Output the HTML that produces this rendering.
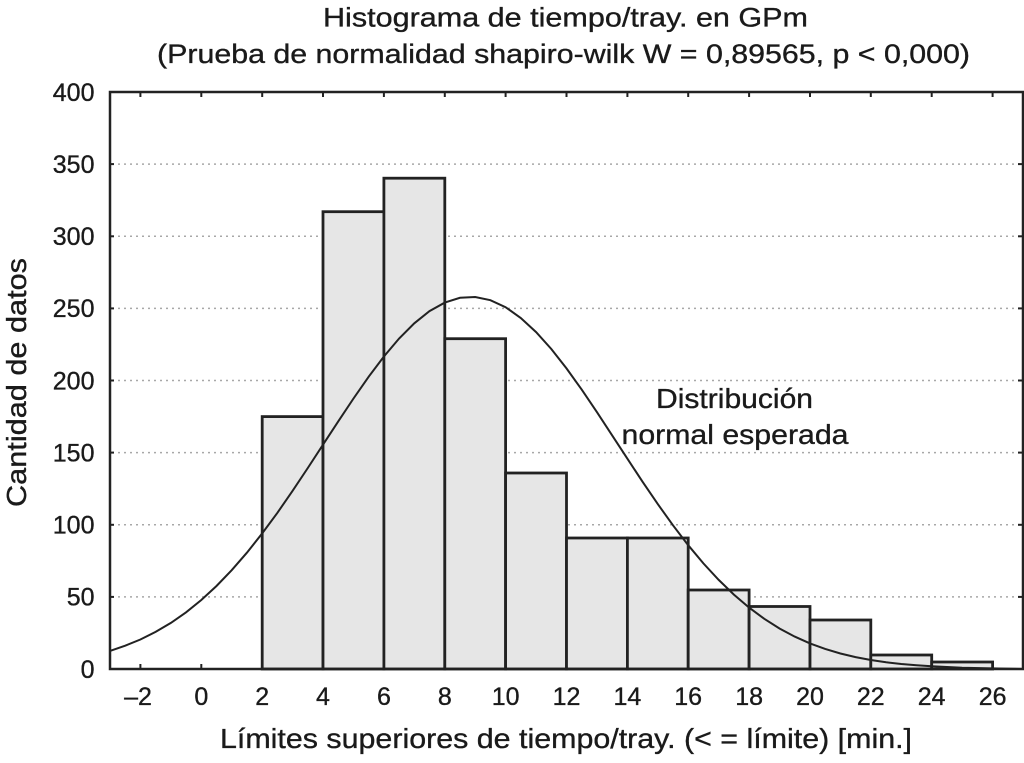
<!DOCTYPE html>
<html>
<head>
<meta charset="utf-8">
<style>
html,body{margin:0;padding:0;background:#fff;}
svg{display:block;}
text{font-family:"Liberation Sans",Arial,sans-serif;fill:#1a1a1a;stroke:#1a1a1a;stroke-width:0.35;}
</style>
</head>
<body>
<svg width="1024" height="763" viewBox="0 0 1024 763" xmlns="http://www.w3.org/2000/svg">
<rect x="0" y="0" width="1024" height="763" fill="#fff"/>

<!-- Titles -->
<text x="565.5" y="26.5" font-size="27" text-anchor="middle" textLength="485" lengthAdjust="spacingAndGlyphs">Histograma de tiempo/tray. en GPm</text>
<text x="563.5" y="63" font-size="27" text-anchor="middle" textLength="813" lengthAdjust="spacingAndGlyphs">(Prueba de normalidad shapiro-wilk W = 0,89565, p &lt; 0,000)</text>

<!-- Gridlines -->
<g stroke="#a8a8a8" stroke-width="1.5" stroke-dasharray="2 4">
<line x1="112" y1="164.1" x2="1021" y2="164.1"/>
<line x1="112" y1="236.3" x2="1021" y2="236.3"/>
<line x1="112" y1="308.4" x2="1021" y2="308.4"/>
<line x1="112" y1="380.5" x2="1021" y2="380.5"/>
<line x1="112" y1="452.6" x2="1021" y2="452.6"/>
<line x1="112" y1="524.8" x2="1021" y2="524.8"/>
<line x1="112" y1="596.9" x2="1021" y2="596.9"/>
</g>

<!-- Bars -->
<g fill="#e6e6e6" stroke="#222" stroke-width="2.8">
<rect x="262.2" y="416.6" width="60.8" height="252.4"/>
<rect x="323.0" y="211.7" width="60.9" height="457.3"/>
<rect x="383.9" y="178.2" width="60.9" height="490.8"/>
<rect x="444.8" y="338.7" width="60.8" height="330.3"/>
<rect x="505.6" y="473.0" width="60.9" height="196.0"/>
<rect x="566.5" y="538.0" width="60.9" height="131.0"/>
<rect x="627.4" y="538.0" width="60.8" height="131.0"/>
<rect x="688.2" y="590.0" width="60.9" height="79.0"/>
<rect x="749.1" y="606.5" width="60.9" height="62.5"/>
<rect x="810.0" y="620.0" width="60.8" height="49.0"/>
<rect x="870.8" y="655.0" width="60.9" height="14.0"/>
<rect x="931.7" y="662.0" width="60.9" height="7.0"/>
</g>

<!-- Normal curve -->
<polyline fill="none" stroke="#222" stroke-width="2" points="
110,650.9 125.2,645.7 140.4,639.5 155.6,631.9 170.9,622.9 186.1,612.3 201.3,600.0 216.5,586.0 231.7,570.2 246.9,552.7
262.2,533.4 277.4,512.8 292.6,490.8 307.8,468.0 323.0,444.7 338.3,421.3 353.5,398.5 368.7,376.7 383.9,356.5 399.1,338.5
414.3,323.3 429.5,311.1 444.8,302.6 460.0,297.8 475.2,297.0 490.4,300.2 505.6,307.2 520.8,318.0 536.1,332.1 551.3,349.0
566.5,368.4 581.7,389.6 596.9,412.1 612.1,435.3 627.4,458.7 642.6,481.8 657.8,504.1 673.0,525.3 688.2,545.2 703.4,563.4
718.7,579.9 733.9,594.6 749.1,607.6 764.3,618.8 779.5,628.5 794.7,636.6 810.0,643.4 825.2,648.9 840.4,653.5 855.6,657.1
870.8,660.0 886.1,662.3 901.3,664.0 916.5,665.3 931.7,666.3 962.1,667.7 992.6,668.4 1022,669"/>

<!-- Annotation -->
<text x="734.5" y="408" font-size="28" text-anchor="middle" textLength="157" lengthAdjust="spacingAndGlyphs">Distribución</text>
<text x="735" y="444" font-size="28" text-anchor="middle" textLength="227" lengthAdjust="spacingAndGlyphs">normal esperada</text>

<!-- Frame -->
<rect x="110" y="92" width="913" height="577" fill="none" stroke="#222" stroke-width="2.5"/>

<!-- Ticks -->
<g stroke="#222" stroke-width="2">
<line x1="140.4" y1="92" x2="140.4" y2="97"/>
<line x1="201.3" y1="92" x2="201.3" y2="97"/>
<line x1="262.2" y1="92" x2="262.2" y2="97"/>
<line x1="323.0" y1="92" x2="323.0" y2="97"/>
<line x1="383.9" y1="92" x2="383.9" y2="97"/>
<line x1="444.8" y1="92" x2="444.8" y2="97"/>
<line x1="505.6" y1="92" x2="505.6" y2="97"/>
<line x1="566.5" y1="92" x2="566.5" y2="97"/>
<line x1="627.4" y1="92" x2="627.4" y2="97"/>
<line x1="688.2" y1="92" x2="688.2" y2="97"/>
<line x1="749.1" y1="92" x2="749.1" y2="97"/>
<line x1="810.0" y1="92" x2="810.0" y2="97"/>
<line x1="870.8" y1="92" x2="870.8" y2="97"/>
<line x1="931.7" y1="92" x2="931.7" y2="97"/>
<line x1="992.6" y1="92" x2="992.6" y2="97"/>
<line x1="140.4" y1="669" x2="140.4" y2="664"/>
<line x1="201.3" y1="669" x2="201.3" y2="664"/>
<line x1="110" y1="164.1" x2="114" y2="164.1"/>
<line x1="110" y1="236.3" x2="114" y2="236.3"/>
<line x1="110" y1="308.4" x2="114" y2="308.4"/>
<line x1="110" y1="380.5" x2="114" y2="380.5"/>
<line x1="110" y1="452.6" x2="114" y2="452.6"/>
<line x1="110" y1="524.8" x2="114" y2="524.8"/>
<line x1="110" y1="596.9" x2="114" y2="596.9"/>
<line x1="1023" y1="164.1" x2="1018" y2="164.1"/>
<line x1="1023" y1="236.3" x2="1018" y2="236.3"/>
<line x1="1023" y1="308.4" x2="1018" y2="308.4"/>
<line x1="1023" y1="380.5" x2="1018" y2="380.5"/>
<line x1="1023" y1="452.6" x2="1018" y2="452.6"/>
<line x1="1023" y1="524.8" x2="1018" y2="524.8"/>
<line x1="1023" y1="596.9" x2="1018" y2="596.9"/>
</g>

<!-- Y tick labels -->
<g font-size="25" text-anchor="end">
<text x="94.5" y="101">400</text>
<text x="94.5" y="173">350</text>
<text x="94.5" y="245">300</text>
<text x="94.5" y="317">250</text>
<text x="94.5" y="389.5">200</text>
<text x="94.5" y="461.5">150</text>
<text x="94.5" y="533.5">100</text>
<text x="94.5" y="605.5">50</text>
<text x="94.5" y="678">0</text>
</g>

<!-- X tick labels -->
<g font-size="25" text-anchor="middle">
<text x="138" y="705">–2</text>
<text x="201.3" y="705">0</text>
<text x="262.2" y="705">2</text>
<text x="323.0" y="705">4</text>
<text x="383.9" y="705">6</text>
<text x="444.8" y="705">8</text>
<text x="505.6" y="705">10</text>
<text x="566.5" y="705">12</text>
<text x="627.4" y="705">14</text>
<text x="688.2" y="705">16</text>
<text x="749.1" y="705">18</text>
<text x="810.0" y="705">20</text>
<text x="870.8" y="705">22</text>
<text x="931.7" y="705">24</text>
<text x="992.6" y="705">26</text>
</g>

<!-- Axis labels -->
<text x="566" y="748" font-size="28" text-anchor="middle" textLength="692" lengthAdjust="spacingAndGlyphs">Límites superiores de tiempo/tray. (&lt; = límite) [min.]</text>
<text transform="translate(26,382.5) rotate(-90)" x="0" y="0" font-size="28" text-anchor="middle" textLength="249" lengthAdjust="spacingAndGlyphs">Cantidad de datos</text>
</svg>
</body>
</html>
